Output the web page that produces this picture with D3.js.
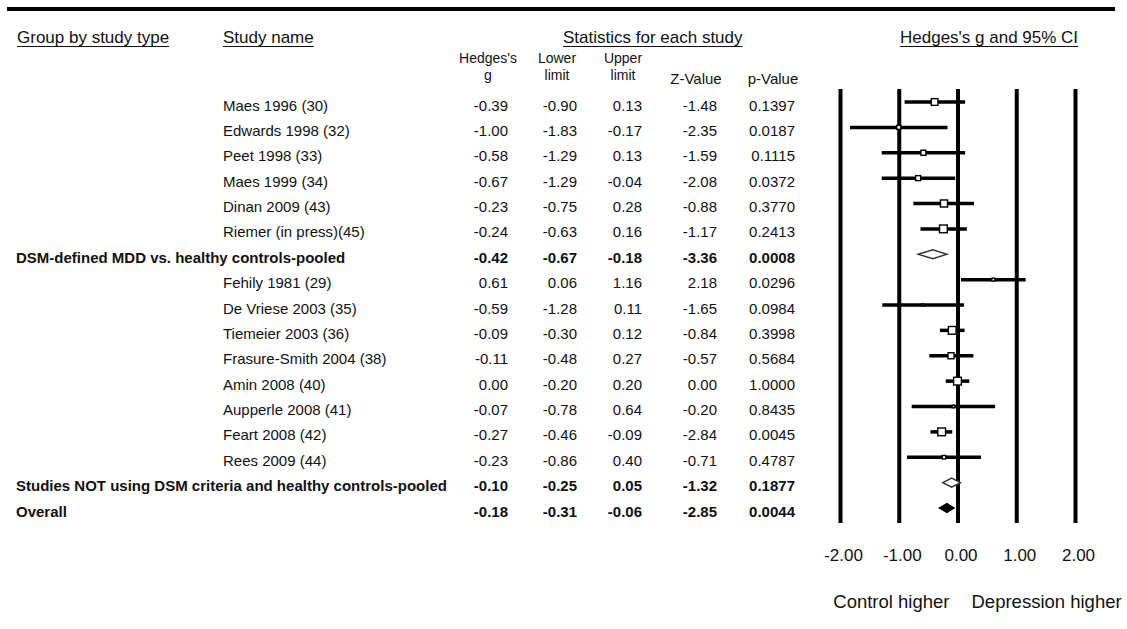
<!DOCTYPE html>
<html>
<head>
<meta charset="utf-8">
<script src="https://cdn.jsdelivr.net/npm/d3@7"></script>
<style>
  html, body { margin: 0; padding: 0; background: #fff; }
  svg { display: block; font-family: "Liberation Sans", Arial, sans-serif; }
</style>
</head>
<body>
<svg id="forest" width="1127" height="629"></svg>
<script>
// Row labels, top to bottom (study rows, subgroup pooled rows, overall)
const rowLabels = [
  "Maes 1996 (30)", "Edwards 1998 (32)", "Peet 1998 (33)", "Maes 1999 (34)",
  "Dinan 2009 (43)", "Riemer (in press)(45)",
  "DSM-defined MDD vs. healthy controls-pooled",
  "Fehily 1981 (29)", "De Vriese 2003 (35)", "Tiemeier 2003 (36)",
  "Frasure-Smith 2004 (38)", "Amin 2008 (40)", "Aupperle 2008 (41)",
  "Feart 2008 (42)", "Rees 2009 (44)",
  "Studies NOT using DSM criteria and healthy controls-pooled",
  "Overall"
];
const rowKind = [
  "study", "study", "study", "study", "study", "study", "pooled",
  "study", "study", "study", "study", "study", "study", "study", "study",
  "pooled", "overall"
];
const hedgesG   = [-0.39, -1.00, -0.58, -0.67, -0.23, -0.24, -0.42, 0.61, -0.59, -0.09, -0.11, 0.00, -0.07, -0.27, -0.23, -0.10, -0.18];
const lowerLim  = [-0.90, -1.83, -1.29, -1.29, -0.75, -0.63, -0.67, 0.06, -1.28, -0.30, -0.48, -0.20, -0.78, -0.46, -0.86, -0.25, -0.31];
const upperLim  = [0.13, -0.17, 0.13, -0.04, 0.28, 0.16, -0.18, 1.16, 0.11, 0.12, 0.27, 0.20, 0.64, -0.09, 0.40, 0.05, -0.06];
const zValue    = [-1.48, -2.35, -1.59, -2.08, -0.88, -1.17, -3.36, 2.18, -1.65, -0.84, -0.57, 0.00, -0.20, -2.84, -0.71, -1.32, -2.85];
const pValue    = [0.1397, 0.0187, 0.1115, 0.0372, 0.3770, 0.2413, 0.0008, 0.0296, 0.0984, 0.3998, 0.5684, 1.0000, 0.8435, 0.0045, 0.4787, 0.1877, 0.0044];
// Relative study weights (marker area); summary rows have none
const studyWeight = [45, 16, 25, 25, 50, 60, null, 9, 4, 60, 36, 60, 6, 60, 12, null, null];

// Axis ticks for the effect-size panel
const effectTicks = [-2, -1, 0, 1, 2];

const svg = d3.select("#forest");
// Plain hyphen for negative numbers
const locale = d3.formatLocale({ decimal: ".", thousands: ",", grouping: [3], currency: ["$", ""], minus: "-" });
const fmt2 = locale.format(".2f");
const fmt4 = locale.format(".4f");

// Layout
const plotTop = 89, plotBottom = 523;
const x = d3.scaleLinear().domain([-2, 2]).range([840, 1075]);
const y = d3.scalePoint().domain(d3.range(rowLabels.length)).range([102, 508]);
const markerSize = d3.scaleSqrt().domain([0, 64]).range([0, 8]);
const textDy = 8.5;

// Top rule
svg.append("line")
  .attr("x1", 7).attr("x2", 1115).attr("y1", 9).attr("y2", 9)
  .attr("stroke", "#000").attr("stroke-width", 4);

// Underlined section headers
const headers = [
  { t: "Group by study type", x: 17 },
  { t: "Study name", x: 223 },
  { t: "Statistics for each study", x: 563 },
  { t: "Hedges's g and 95% CI", x: 900 }
];
headers.forEach(h => {
  const t = svg.append("text")
    .attr("x", h.x).attr("y", 43)
    .attr("font-size", 17).attr("fill", "#111")
    .text(h.t);
  const w = t.node().getComputedTextLength();
  svg.append("line")
    .attr("x1", h.x).attr("x2", h.x + w)
    .attr("y1", 46.5).attr("y2", 46.5)
    .attr("stroke", "#111").attr("stroke-width", 1.2);
});

// Statistics columns: right edge of values, header lines
const columns = [
  { head: ["Hedges's", "g"], right: 508, center: 488, values: hedgesG, f: fmt2 },
  { head: ["Lower", "limit"], right: 577, center: 557, values: lowerLim, f: fmt2 },
  { head: ["Upper", "limit"], right: 642, center: 623, values: upperLim, f: fmt2 },
  { head: ["Z-Value"], right: 717, center: 696, values: zValue, f: fmt2 },
  { head: ["p-Value"], right: 795, center: 773, values: pValue, f: fmt4 }
];

columns.forEach(c => {
  if (c.head.length === 2) {
    svg.append("text").attr("x", c.center).attr("y", 63)
      .attr("font-size", 14).attr("text-anchor", "middle").attr("fill", "#111")
      .text(c.head[0]);
    svg.append("text").attr("x", c.center).attr("y", 79.5)
      .attr("font-size", 14).attr("text-anchor", "middle").attr("fill", "#111")
      .text(c.head[1]);
  } else {
    svg.append("text").attr("x", c.center).attr("y", 84)
      .attr("font-size", 15).attr("text-anchor", "middle").attr("fill", "#111")
      .text(c.head[0]);
  }
  svg.append("g").selectAll("text")
    .data(c.values)
    .join("text")
    .attr("x", c.right)
    .attr("y", (d, i) => y(i) + textDy)
    .attr("text-anchor", "end")
    .attr("font-size", 15)
    .attr("font-weight", (d, i) => rowKind[i] === "study" ? "normal" : "bold")
    .attr("fill", "#111")
    .text(d => c.f(d));
});

// Row labels: studies in the name column, pooled rows in the group column
svg.append("g").selectAll("text")
  .data(rowLabels)
  .join("text")
  .attr("x", (d, i) => rowKind[i] === "study" ? 223 : 16)
  .attr("y", (d, i) => y(i) + textDy)
  .attr("font-size", 15)
  .attr("font-weight", (d, i) => rowKind[i] === "study" ? "normal" : "bold")
  .attr("fill", "#111")
  .text(d => d);

// Effect axis: full-height reference lines plus labels
const axis = d3.axisBottom(x)
  .tickValues(effectTicks)
  .tickSizeInner(-(plotBottom - plotTop))
  .tickSizeOuter(0)
  .tickPadding(26)
  .tickFormat(fmt2);
const gAxis = svg.append("g")
  .attr("transform", `translate(0,${plotBottom})`)
  .call(axis);
gAxis.select(".domain").remove();
gAxis.selectAll(".tick line").attr("stroke", "#000").attr("stroke-width", 4);
gAxis.selectAll(".tick text")
  .attr("font-size", 17).attr("font-family", "Liberation Sans, Arial, sans-serif")
  .attr("fill", "#111").attr("dx", 3);

// Direction labels under the axis
svg.append("text").attr("x", x(0) - 8).attr("y", 608)
  .attr("text-anchor", "end").attr("font-size", 18.5).attr("fill", "#111")
  .text("Control higher");
svg.append("text").attr("x", x(0) + 14).attr("y", 608)
  .attr("text-anchor", "start").attr("font-size", 18.5).attr("fill", "#111")
  .text("Depression higher");

// Confidence intervals for studies
const idx = d3.range(rowLabels.length);
const studyIdx = idx.filter(i => rowKind[i] === "study");
const summaryIdx = idx.filter(i => rowKind[i] !== "study");

svg.append("g").selectAll("line")
  .data(studyIdx)
  .join("line")
  .attr("x1", i => x(lowerLim[i]))
  .attr("x2", i => x(upperLim[i]))
  .attr("y1", i => y(i)).attr("y2", i => y(i))
  .attr("stroke", "#000").attr("stroke-width", 3.5);

// Point estimates sized by weight
svg.append("g").selectAll("rect")
  .data(studyIdx)
  .join("rect")
  .attr("x", i => x(hedgesG[i]) - markerSize(studyWeight[i]) / 2)
  .attr("y", i => y(i) - markerSize(studyWeight[i]) / 2)
  .attr("width", i => markerSize(studyWeight[i]))
  .attr("height", i => markerSize(studyWeight[i]))
  .attr("fill", "#fff").attr("stroke", "#000").attr("stroke-width", 1.4);

// Pooled estimates as diamonds
const halfH = 4.5;
svg.append("g").selectAll("path")
  .data(summaryIdx)
  .join("path")
  .attr("d", i => {
    const yy = y(i);
    return `M${x(lowerLim[i])},${yy} L${x(hedgesG[i])},${yy - halfH} L${x(upperLim[i])},${yy} L${x(hedgesG[i])},${yy + halfH} Z`;
  })
  .attr("fill", i => rowKind[i] === "overall" ? "#000" : "#fff")
  .attr("stroke", i => rowKind[i] === "overall" ? "#000" : "#333")
  .attr("stroke-width", 1.4);
</script>
</body>
</html>
